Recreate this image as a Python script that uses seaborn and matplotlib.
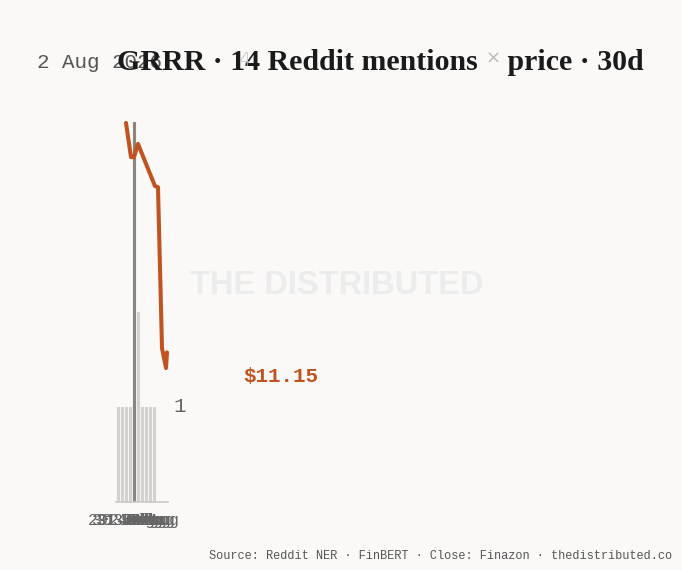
import matplotlib
matplotlib.use("Agg")
import matplotlib.pyplot as plt
import seaborn as sns

# mentions per day (bars) and close price (line)
days = ["29 Jul", "30 Jul", "31 Jul", "1 Aug", "2 Aug", "3 Aug", "4 Aug", "5 Aug", "6 Aug", "7 Aug"]
mentions = [1, 1, 1, 1, 4, 2, 1, 1, 1, 1]
peak_idx = 4
price_pos = [2, 3.25, 4, 5, 9.25, 10, 11, 12, 12.25]
price_close = [15.98, 15.26, 15.26, 15.54, 14.65, 14.63, 11.24, 10.82, 11.15]

BG = "#faf9f7"
ORANGE = "#c0531f"
BAR = "#d3d2d0"
PEAK = "#8b857e"
MONO = "Liberation Mono"

sns.set_theme(style="white")
plt.rcParams["font.family"] = ["DejaVu Sans"]

W, H = 682, 570
fig = plt.figure(figsize=(W / 100, H / 100), dpi=100, facecolor=BG)

def fx(px):
    return px / W

def fy(py):
    return 1 - py / H

ax = fig.add_axes([fx(116), fy(502), fx(168) - fx(116), fy(122) - fy(502)])
ax.set_facecolor("none")
sns.barplot(x=days, y=mentions, color=BAR, width=0.5, linewidth=0.8,
            edgecolor=BAR, ax=ax, saturation=1)
ax.patches[peak_idx].set_facecolor(PEAK)
ax.patches[peak_idx].set_edgecolor(PEAK)
ax.set_xlim(-0.5, 12.5)
ax.set_ylim(0, 4)
ax.set_yticks([])
ax.set_ylabel("")
for s in ["top", "right", "left"]:
    ax.spines[s].set_visible(False)
ax.spines["bottom"].set_color("#c8c8c8")
ax.spines["bottom"].set_linewidth(1.2)
ax.tick_params(axis="x", length=0, pad=8)
for lab in ax.get_xticklabels():
    lab.set_fontfamily(MONO)
    lab.set_fontsize(12)
    lab.set_color("#666666")

ax2 = ax.twinx()
sns.lineplot(x=price_pos, y=price_close, ax=ax2, color=ORANGE, linewidth=2.9, sort=False)
for ln in ax2.lines:
    ln.set_clip_on(False)
    ln.set_solid_joinstyle("round")
    ln.set_solid_capstyle("round")
ax2.set_ylim(8, 16)
ax2.set_xlim(-0.5, 12.5)
ax2.set_yticks([])
ax2.set_ylabel("")
for s in ax2.spines.values():
    s.set_visible(False)

# watermark
fig.text(fx(190), fy(285), "THE DISTRIBUTED", fontsize=23.5, fontweight="bold",
         color="#ececec", family="Liberation Sans", va="center", ha="left", zorder=0)

# labels
fig.text(fx(243), fy(377), f"${price_close[-1]:.2f}", fontsize=15, fontweight="bold",
         color=ORANGE, family=MONO, va="center", ha="left")
fig.text(fx(173), fy(407), str(mentions[-1]), fontsize=15, color="#666666",
         family=MONO, va="center", ha="left")
fig.text(fx(37), fy(63), f"{days[peak_idx]} 2026", fontsize=15, color="#555555",
         family=MONO, va="center", ha="left")

# title in pieces (grey ×)
t1 = fig.text(fx(117), fy(70), "GRRR · 14 Reddit mentions ", fontsize=21.5,
              fontweight="bold", family="Liberation Serif", color="#1a1a1a",
              va="baseline", ha="left")
t2 = fig.text(0, 0, "×", fontsize=13, color="#bbbbbb", family="DejaVu Sans",
              va="baseline", ha="left")
t3 = fig.text(0, 0, " price · 30d", fontsize=21.5, fontweight="bold",
              family="Liberation Serif", color="#1a1a1a", va="baseline", ha="left")
fig.canvas.draw()
r = fig.canvas.get_renderer()
bb = t1.get_window_extent(r)
t2.set_position((bb.x1 / W, fy(70) + 0.012))
bb2 = t2.get_window_extent(r)
t3.set_position((bb2.x1 / W, fy(70)))

fig.text(fx(245), fy(60), str(max(mentions)), fontsize=14, color="#c4c4c4",
         family="DejaVu Sans", fontweight="light", va="center", ha="center")

fig.text(fx(672), fy(556), "Source: Reddit NER · FinBERT · Close: Finazon · thedistributed.co",
         fontsize=8.6, color="#555555", family=MONO, ha="right", va="center")

fig.savefig("out.png", dpi=100, facecolor=BG)
